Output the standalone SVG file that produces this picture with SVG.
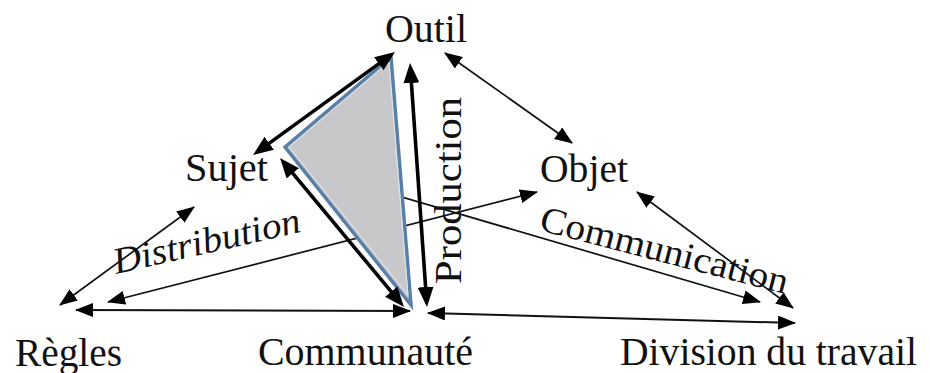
<svg xmlns="http://www.w3.org/2000/svg" width="930" height="373" viewBox="0 0 930 373">
<style>
.lbl{font-family:"Liberation Serif","Times New Roman",serif;font-size:39px;fill:#111}
.thin{stroke:#111;stroke-width:1.7;fill:none;marker-start:url(#ah);marker-end:url(#ah)}
.one{stroke:#111;stroke-width:1.7;fill:none;marker-end:url(#ah)}
.thick{stroke:#000;stroke-width:3.6;fill:none;marker-start:url(#ahb);marker-end:url(#ahb)}
</style>
<defs>
<marker id="ah" markerUnits="userSpaceOnUse" markerWidth="19" markerHeight="15" refX="17" refY="7" orient="auto-start-reverse"><path d="M0,0 L18,7 L0,14 z" fill="#000"/></marker>
<marker id="ahb" markerUnits="userSpaceOnUse" markerWidth="21" markerHeight="17" refX="13" refY="8" orient="auto-start-reverse"><path d="M0,0 L20,8 L0,16 z" fill="#000"/></marker>
</defs>
<rect width="930" height="373" fill="#fff"/>
<g id="connectors">
<line class="thin" x1="108" y1="302" x2="537" y2="192"/>
<line class="one" x1="330" y1="176" x2="760" y2="302"/>
<line class="thin" x1="445" y1="53" x2="572" y2="143"/>
<line class="thin" x1="60" y1="305" x2="194" y2="207"/>
<line class="thin" x1="637" y1="192" x2="793" y2="308"/>
<line class="thin" style="stroke-width:2" x1="76" y1="310" x2="410" y2="311"/>
<line class="thin" style="stroke-width:2" x1="428" y1="313" x2="795" y2="323"/>
</g>
<g id="triangle">
<polygon points="285,147 391,57 411,305" fill="#c8c8cb" stroke="#5a80a8" stroke-width="3.5" stroke-linejoin="miter"/>
<polygon points="289,147 389,62 408,295" fill="none" stroke="#dfe8f2" stroke-width="1"/>
</g>
<g id="thick-connectors">
<line class="thick" x1="258.7" y1="150.9" x2="389.3" y2="56.1"/>
<line class="thick" x1="284.5" y1="163.4" x2="399.5" y2="301.6"/>
<line class="thick" x1="410.5" y1="70" x2="426.5" y2="300"/>
</g>
<g id="outil"><text class="lbl" x="385" y="42" textLength="82" lengthAdjust="spacingAndGlyphs">Outil</text></g>
<g id="sujet"><text class="lbl" x="185" y="181" textLength="83" lengthAdjust="spacingAndGlyphs">Sujet</text></g>
<g id="objet"><text class="lbl" x="540" y="182" textLength="88" lengthAdjust="spacingAndGlyphs">Objet</text></g>
<g id="regles"><text class="lbl" x="15" y="366" textLength="107" lengthAdjust="spacingAndGlyphs">Règles</text></g>
<g id="communaute"><text class="lbl" x="258" y="365" textLength="215" lengthAdjust="spacingAndGlyphs">Communauté</text></g>
<g id="division"><text class="lbl" x="620" y="365" textLength="297" lengthAdjust="spacingAndGlyphs">Division du travail</text></g>
<g id="labels">
<text class="lbl" style="font-style:italic;font-size:37px" transform="translate(116,274) rotate(-12.8)" textLength="191" lengthAdjust="spacingAndGlyphs">Distribution</text>
<text class="lbl" style="font-size:37px" transform="translate(461,284) rotate(-90)" textLength="187" lengthAdjust="spacingAndGlyphs">Production</text>
<text class="lbl" style="font-size:37px" transform="translate(538,230) rotate(14.5)" textLength="255" lengthAdjust="spacingAndGlyphs">Communication</text>
</g>
</svg>
